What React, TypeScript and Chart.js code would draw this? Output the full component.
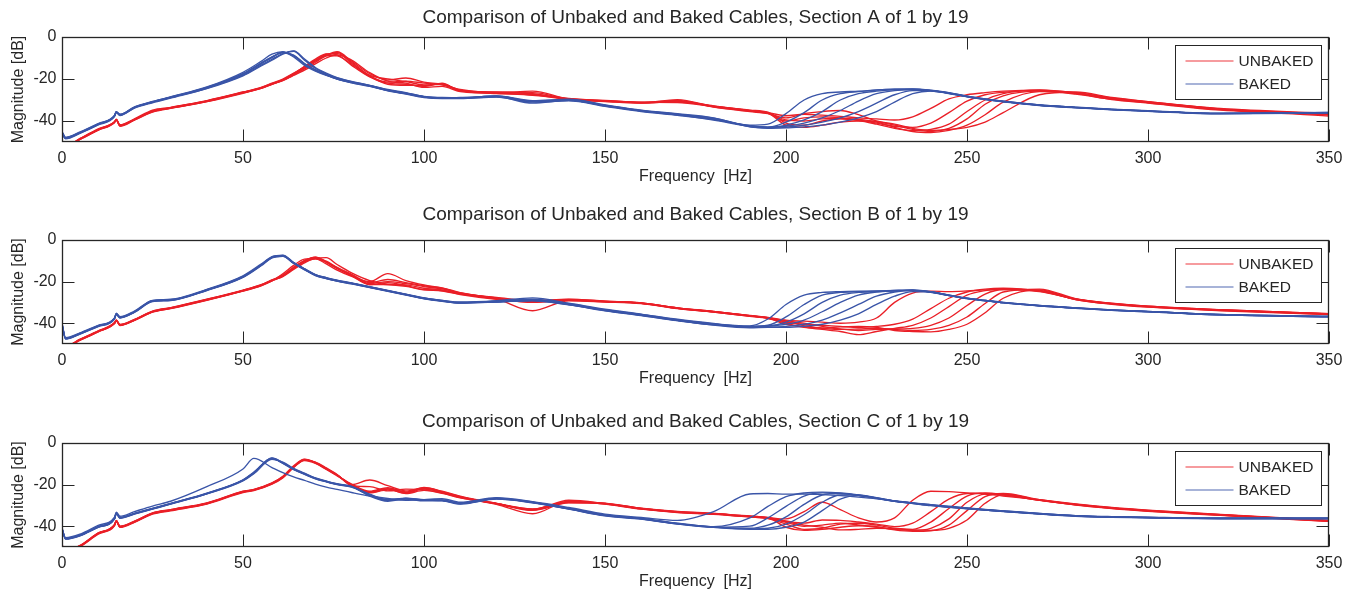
import React, { useEffect, useRef } from "react";
import { Chart, registerables } from "chart.js";

Chart.register(...registerables);

// ---------------- data ----------------
const FREQ_AB = [
  0, 1, 5, 10, 14.5, 15, 16, 20, 25, 30,
  40, 50, 55, 58, 61, 64, 67, 70, 73, 76,
  80, 85, 90, 95, 100, 105, 110, 120, 130, 140,
  150, 160, 170, 180, 190, 195, 200, 205, 210, 215,
  220, 225, 230, 235, 240, 245, 250, 255, 260, 270,
  280, 290, 300, 320, 350,
];
const FREQ_C = [
  0, 1, 5, 10, 14.5, 15, 16, 20, 25, 30,
  40, 50, 53, 58, 61, 64, 67, 70, 73, 76,
  80, 85, 90, 95, 100, 105, 110, 120, 130, 140,
  150, 160, 170, 180, 190, 195, 200, 205, 210, 215,
  220, 225, 230, 235, 240, 245, 250, 255, 260, 270,
  280, 290, 300, 320, 350,
];

const A_UNBAKED = [
  [-51, -52, -48.6, -44.2, -40.6, -39.4, -42.2, -39.4, -35.2, -33.8,
   -30.6, -26.5, -24.3, -22.4, -20.5, -18, -15.2, -12, -8.8, -7,
   -11.5, -17.5, -20.5, -19.5, -21.5, -22.5, -25, -26.5, -25.8, -29.5,
   -30.2, -31, -30.8, -32.8, -35, -36, -37.5, -36.8, -37.2, -37.8,
   -38.5, -39, -39.5, -38, -34, -29.5, -27.5, -26.5, -25.8, -25.3,
   -26.6, -29.3, -31, -34.3, -36.5],
  [-51.5, -52, -48.3, -43.8, -40.3, -39.1, -41.8, -39, -34.8, -33.5,
   -30.3, -26.2, -24, -22, -20, -17.2, -14.3, -11.2, -8.2, -7.8,
   -12.5, -18.5, -21.5, -21, -22, -22.8, -25.5, -27, -27.5, -29.8,
   -30.6, -31.4, -29.8, -33.2, -35.3, -36.3, -40, -38.5, -38, -38.5,
   -39.5, -41, -42.5, -43, -41, -36, -30.5, -27.5, -26.3, -25.5,
   -27, -29.6, -31.3, -34.6, -36.8],
  [-50.5, -51.5, -48.8, -44.4, -40.8, -39.6, -42.5, -39.6, -35.8, -34,
   -30.8, -26.8, -24.5, -22.5, -20.8, -17.8, -14, -10.5, -8, -8.5,
   -13.5, -19, -22, -22.5, -23.5, -22, -25.8, -26.3, -27.2, -29.3,
   -30.4, -31.2, -31, -33, -34.8, -35.8, -41, -42, -40, -39,
   -39.8, -41.5, -43.5, -44.5, -44, -41.5, -35.5, -30, -27, -25.2,
   -26.5, -29, -30.8, -34, -36.3],
  [-51, -52.5, -48.5, -44, -40.5, -39.4, -42, -39.2, -35.4, -33.7,
   -30.5, -26.4, -24.2, -22.3, -20.6, -18.3, -15.8, -12.8, -10, -8.5,
   -11, -17, -21, -22, -24, -23.5, -26, -26.8, -26.5, -29.6,
   -30.5, -31.3, -30.2, -33.4, -35.5, -36.5, -38.5, -36.5, -35.5, -35,
   -37, -40, -42, -44, -45, -43.5, -39, -32, -28, -25.8,
   -27.2, -29.8, -31.5, -34.8, -37],
  [-51.2, -52, -48.4, -44.1, -40.4, -39.2, -42.3, -39.3, -35.6, -33.6,
   -30.4, -26.3, -24.1, -22.2, -20.3, -17.6, -14.8, -11.5, -9, -7.3,
   -12, -18.2, -20, -21.2, -22.8, -22.6, -25.3, -26.6, -27.8, -29.4,
   -30.3, -31.1, -31.2, -33.1, -35.2, -36.2, -42, -43, -42, -40.5,
   -40, -40.5, -43, -45, -45.5, -44.5, -42, -37, -31, -26,
   -26.6, -29.2, -31, -34.4, -37.6],
  [-51, -51.8, -48.7, -44.3, -40.7, -39.5, -42.1, -39.5, -35.3, -33.9,
   -30.7, -26.6, -24.4, -22.6, -20.4, -17.4, -14.1, -11, -8.8, -9,
   -13, -18.8, -22.5, -23, -23, -22.2, -25.6, -26.2, -27, -29.7,
   -30.7, -31.5, -30.6, -32.9, -35.1, -36.1, -39.5, -40, -39, -38.8,
   -39.2, -40.3, -41.5, -43.5, -44.5, -44, -43, -40.5, -36, -27.5,
   -26.2, -28.8, -30.8, -34.2, -36.9],
];

const A_BAKED = [
  [-45, -47.8, -45.2, -41.2, -37.3, -35.5, -36.8, -33.3, -30.7, -28.5,
   -23.8, -16.8, -11.6, -8.2, -7, -9.5, -13.5, -16.2, -18.3, -20,
   -21.8, -23.5, -25.5, -27, -28.6, -29.2, -29.2, -28.5, -31.5, -30.2,
   -32.8, -35.3, -37, -39, -42, -41.5, -36.5, -30, -27, -26.2,
   -25.8, -25.2, -24.8, -24.7, -25.3, -26.5, -28.2, -29.5, -30.6, -32.3,
   -33.5, -34.5, -35.2, -36.4, -36],
  [-45.5, -48.2, -45.6, -41.6, -37.6, -35.8, -37.1, -33.6, -31, -28.8,
   -24.2, -17.8, -12.8, -9.8, -7.3, -8.6, -12.6, -15.6, -17.9, -19.8,
   -21.5, -23.2, -25.3, -26.8, -28.5, -29, -28.8, -28.2, -30.5, -29.8,
   -32.5, -35, -36.8, -38.6, -42.5, -43, -40.5, -36, -30, -27,
   -26, -25.3, -24.9, -24.8, -25.5, -26.8, -28.4, -29.7, -30.8, -32.5,
   -33.6, -34.6, -35.3, -36.5, -36.1],
  [-46, -48.5, -45.9, -41.9, -37.9, -36, -37.4, -33.9, -31.3, -29.1,
   -24.6, -18.5, -13.8, -11, -8.2, -6.6, -10.5, -14.5, -17.2, -19.3,
   -21.2, -23, -25, -26.5, -28.3, -28.8, -29, -28, -30.3, -29.6,
   -32.3, -34.8, -36.5, -38.5, -42.8, -43.3, -42, -39.5, -35.5, -30,
   -27, -25.8, -25.2, -25, -25.6, -26.9, -28.5, -29.8, -30.9, -32.6,
   -33.7, -34.7, -35.4, -36.6, -36.2],
  [-45.3, -47.9, -45.4, -41.4, -37.4, -35.6, -36.9, -33.5, -30.8, -28.6,
   -24, -17.4, -12.4, -9.5, -7.5, -9, -13, -15.9, -18.1, -20,
   -21.7, -23.4, -25.6, -27.2, -28.8, -29.3, -29.3, -28.6, -31, -30.4,
   -33, -35.5, -37.3, -39.3, -42.2, -42.8, -42.5, -41, -38.5, -35,
   -30.5, -27, -25.5, -25, -25.4, -26.7, -28.3, -29.6, -30.7, -32.4,
   -33.5, -34.5, -35.2, -36.4, -35.9],
  [-45.8, -48.3, -45.7, -41.7, -37.7, -35.9, -37.2, -33.7, -31.1, -28.9,
   -24.4, -18.2, -13.4, -10.6, -7.9, -6.8, -11, -14.9, -17.5, -19.5,
   -21.3, -23.1, -25.2, -26.7, -28.4, -29, -29.1, -28.1, -30.8, -30.1,
   -32.7, -35.2, -37, -39.6, -42.6, -43.5, -43, -42, -40.5, -38.5,
   -35.5, -31.5, -27.5, -25.5, -25.5, -26.8, -28.4, -29.7, -30.8, -32.5,
   -33.6, -34.6, -35.3, -36.5, -36.1],
  [-45.2, -48, -45.5, -41.5, -37.5, -35.7, -37, -33.5, -30.9, -28.7,
   -24.1, -17.6, -12.5, -9.6, -7.2, -8.8, -12.8, -15.7, -18, -19.9,
   -21.6, -23.3, -25.4, -26.9, -28.6, -29.1, -29.1, -28.4, -30.6, -30,
   -32.6, -35.1, -36.9, -39.2, -42.4, -43.2, -43.3, -42.8, -42, -40.5,
   -38.5, -35.5, -31, -27, -25.7, -26.6, -28.2, -29.5, -30.6, -32.3,
   -33.4, -34.4, -35.1, -36.3, -35.9],
];

const B_UNBAKED = [
  [-49.5, -51, -47.8, -43.8, -39.8, -38.5, -40.7, -38.3, -34.3, -32.6,
   -28.6, -24.2, -21.5, -19.2, -16.8, -13, -9.8, -8.2, -10.2, -13.2,
   -16.5, -20.5, -19, -20.5, -22, -23.2, -25.4, -27.8, -29.4, -28.6,
   -29.4, -30.2, -32.6, -34.3, -36.3, -37.2, -38.5, -39, -39.5, -40,
   -39.5, -37.5, -30, -25.5, -24.6, -24.8, -24.5, -24, -23.8, -24.8,
   -28.3, -30.5, -31.8, -33.5, -35.4],
  [-49.7, -51.2, -48, -44, -40, -38.7, -40.9, -38.5, -34.5, -32.8,
   -28.8, -24.4, -21.8, -19.5, -17.2, -13.4, -10.2, -8.5, -10.5, -13.5,
   -16.8, -21, -20, -21, -22.4, -23.5, -25.6, -28, -29.6, -28.8,
   -29.6, -30.4, -32.8, -34.5, -36.5, -37.5, -39.5, -40.5, -41, -41.5,
   -42, -41.5, -40.5, -38, -33, -28, -25, -23.6, -23.2, -24.6,
   -28.5, -30.7, -32, -33.7, -35.6],
  [-50, -51.5, -48.2, -44.2, -40.2, -38.9, -41.1, -38.7, -34.7, -33,
   -29, -24.6, -22, -19.7, -16.2, -12.2, -9.2, -9, -11.5, -14.5,
   -17.5, -20, -16.2, -19.5, -21.6, -23, -25.3, -28.3, -34, -29.2,
   -29.8, -30.6, -33, -34.7, -36.7, -37.8, -40, -42, -43, -44,
   -45.5, -44, -42.5, -41, -37.5, -32, -26.5, -24.3, -23.5, -24.4,
   -28.4, -30.6, -31.9, -33.6, -35.5],
  [-49.6, -51, -47.9, -43.9, -39.9, -38.6, -40.8, -38.4, -34.4, -32.7,
   -28.7, -24.3, -21.7, -19.4, -17.6, -14.2, -11, -8.8, -8.5, -11.8,
   -15.8, -19.5, -21.2, -21.6, -23.2, -24, -25.8, -27.6, -29.2, -28.4,
   -29.4, -30.2, -32.6, -34.3, -36.4, -37.4, -38.8, -40, -41.5, -42.8,
   -43.5, -43, -42.8, -42.5, -41, -37.5, -31.5, -26, -23.8, -24.2,
   -28.6, -30.8, -32.1, -33.8, -35.7],
  [-49.8, -51.3, -48.1, -44.1, -40.1, -38.8, -41, -38.6, -34.6, -32.9,
   -28.9, -24.5, -21.9, -19.6, -17.4, -13.6, -10, -8.3, -10.8, -13.8,
   -17.2, -21.5, -20.5, -22, -23.8, -24.3, -26, -28.2, -30, -29,
   -29.7, -30.5, -32.9, -34.6, -36.6, -37.6, -40.5, -41.8, -42.5, -43,
   -42.8, -42.5, -43, -43.5, -43, -41, -37, -30.5, -25, -23.6,
   -28.2, -30.4, -31.8, -33.5, -35.4],
  [-49.4, -51, -47.7, -43.7, -39.7, -38.4, -40.6, -38.2, -34.2, -32.5,
   -28.5, -24.1, -21.6, -19.3, -17.3, -13.8, -10.5, -9, -10.6, -13.4,
   -17, -21.3, -21.5, -22.3, -24, -24.5, -26.2, -28.5, -29.8, -28.9,
   -29.5, -30.3, -32.7, -34.4, -36.4, -37.3, -39.2, -41.2, -42.3, -41.8,
   -41.5, -42, -43.5, -44, -44.2, -43, -40.5, -35, -28, -24,
   -28.7, -30.9, -32.3, -34, -35.9],
];

const B_BAKED = [
  [-40, -47, -44.6, -41, -37.4, -35.2, -36.9, -34.2, -29, -28.5,
   -23.7, -17.2, -11.6, -8, -7.3, -10.8, -13.8, -16.6, -18.1, -19.3,
   -20.6, -22.4, -24.2, -26, -27.8, -29, -29.8, -29.4, -28.5, -30.6,
   -33.5, -35.8, -38.3, -40.3, -41.3, -38, -31, -26.5, -25.2, -24.8,
   -24.6, -24.5, -24.2, -24, -24.8, -26.5, -28, -29, -30, -31.5,
   -32.6, -33.6, -34.3, -35.8, -36.7],
  [-40.5, -47.3, -44.9, -41.3, -37.7, -35.5, -37.2, -34.5, -29.3, -28.8,
   -24, -17.6, -12, -8.2, -7.5, -11, -14, -16.8, -18.3, -19.5,
   -20.8, -22.6, -24.4, -26.2, -28, -29.2, -30, -29.6, -28.8, -30.8,
   -33.7, -36, -38.5, -40.5, -41.5, -41, -37, -31, -26.5, -25.2,
   -24.8, -24.6, -24.3, -24.1, -25, -26.6, -28.1, -29.1, -30.1, -31.6,
   -32.7, -33.7, -34.4, -35.9, -36.8],
  [-41, -47.6, -45.2, -41.6, -38, -35.8, -37.5, -34.8, -29.6, -29.1,
   -24.3, -18, -12.4, -8.6, -7.8, -11.3, -14.3, -17.1, -18.6, -19.8,
   -21.1, -22.9, -24.7, -26.5, -28.3, -29.5, -30.3, -29.2, -27.8, -30.4,
   -33.2, -35.6, -38.1, -40.1, -41.8, -41.5, -39.5, -35.5, -30, -26.5,
   -25.2, -24.8, -24.4, -24.2, -25.1, -26.7, -28.2, -29.2, -30.2, -31.7,
   -32.8, -33.8, -34.5, -36, -36.9],
  [-40.2, -47.2, -44.8, -41.2, -37.6, -35.4, -37.1, -34.4, -29.2, -28.7,
   -23.9, -17.5, -11.9, -8.3, -7.6, -11.1, -14.1, -16.9, -18.4, -19.6,
   -20.9, -22.7, -24.5, -26.3, -28.1, -29.3, -30.2, -29.8, -29.2, -31.2,
   -34, -36.3, -38.8, -40.8, -41.7, -41.3, -40.5, -38.5, -34.5, -30,
   -26.5, -25, -24.5, -24.2, -25, -26.6, -28.1, -29.1, -30.1, -31.6,
   -32.7, -33.7, -34.4, -35.9, -36.8],
  [-40.8, -47.5, -45, -41.4, -37.8, -35.6, -37.3, -34.6, -29.4, -28.9,
   -24.1, -17.7, -12.1, -8.4, -7.4, -10.9, -13.9, -16.7, -18.2, -19.4,
   -20.7, -22.5, -24.3, -26.1, -27.9, -29.1, -30.1, -29.7, -29, -31,
   -33.9, -36.2, -38.7, -40.7, -42, -41.8, -41.5, -40.5, -38.5, -35,
   -31, -27, -25, -24.3, -24.9, -26.5, -28, -29, -30, -31.5,
   -32.6, -33.6, -34.3, -35.8, -36.7],
  [-40.3, -47.4, -45.1, -41.5, -37.9, -35.7, -37.4, -34.7, -29.5, -29,
   -24.2, -17.8, -12.2, -8.5, -7.7, -11.2, -14.2, -17, -18.5, -19.7,
   -21, -22.8, -24.6, -26.4, -28.2, -29.4, -30.3, -29.9, -29.1, -31.1,
   -33.8, -36.1, -38.6, -40.9, -42.2, -42, -42, -41.5, -40.5, -38.5,
   -35.5, -31, -27, -24.8, -25.1, -26.7, -28.2, -29.2, -30.2, -31.7,
   -32.8, -33.8, -34.5, -36, -36.9],
];

const C_UNBAKED = [
  [-49, -51.5, -49.2, -43.2, -39.2, -37.2, -40, -37.6, -33.6, -32,
   -28.8, -23.2, -22.3, -19.2, -16, -11, -7.8, -9.3, -12.2, -15.3,
   -20, -17.8, -20.5, -23, -21.5, -23.2, -25.6, -29, -31.8, -28.3,
   -28.9, -31.3, -32.9, -33.8, -35.1, -35.8, -36.5, -33, -28.5, -32,
   -36, -38, -36, -27.5, -23.2, -23.4, -24, -24.5, -25.5, -27.3,
   -29.3, -31, -32.3, -34.3, -37.2],
  [-49.5, -52, -49.5, -43.5, -39.5, -37.5, -40.3, -37.9, -33.9, -32.3,
   -29.1, -23.5, -22.6, -19.5, -16.5, -11.4, -8, -9.5, -12.4, -15.5,
   -20.2, -23.5, -21.9, -23.5, -21.8, -23.5, -25.9, -29.2, -32, -27.5,
   -29.1, -31.5, -33.1, -34, -35.3, -36, -37.5, -38.5, -37, -37.2,
   -38, -39, -40.2, -38.5, -33, -27, -24.3, -24.2, -25, -27.5,
   -29.5, -31.2, -32.5, -34.5, -37.4],
  [-50, -52.5, -49.8, -43.8, -39.8, -37.8, -40.6, -38.2, -34.2, -32.6,
   -29.4, -23.8, -22.9, -19.8, -16.8, -11.8, -8.2, -9.2, -12, -15.2,
   -20.5, -21, -23, -22.2, -22.5, -24, -26.2, -29.5, -34, -28,
   -29.4, -31.8, -33.4, -34.3, -35.6, -36.3, -39, -41.5, -41, -39,
   -38.6, -39.5, -41, -41.5, -38, -31.5, -25.5, -24, -24.8, -27.6,
   -29.7, -31.4, -32.7, -34.7, -37.6],
  [-49.3, -51.8, -49.3, -43.3, -39.3, -37.3, -40.1, -37.7, -33.7, -32.1,
   -28.9, -23.3, -22.4, -19.3, -16.3, -11.6, -8.4, -9.8, -12.7, -15.8,
   -20, -24, -22.5, -24, -22.2, -23.8, -26, -29, -32.2, -28.6,
   -29.2, -31.6, -33.2, -34.1, -35.4, -36.1, -38.2, -40, -39.5, -38.5,
   -39.4, -40.5, -41.5, -42, -41, -36.5, -28.5, -24.6, -24.5, -27.4,
   -29.6, -31.3, -32.6, -34.6, -37.5],
  [-49.6, -52.2, -49.6, -43.6, -39.6, -37.6, -40.4, -38, -34, -32.4,
   -29.2, -23.6, -22.7, -19.6, -16.6, -11.2, -7.9, -9.6, -12.5, -15.6,
   -19.8, -23.2, -21.5, -23.8, -21.4, -23.4, -25.8, -29.3, -31.7, -28.2,
   -29, -31.4, -33, -33.9, -35.2, -35.9, -40.5, -42, -41.5, -40.5,
   -39.8, -40.2, -41.8, -42.5, -42.2, -39.5, -32.5, -25.8, -24.3, -27.2,
   -29.4, -31.1, -32.4, -34.4, -37.3],
  [-49.4, -51.9, -49.4, -43.4, -39.4, -37.4, -40.2, -37.8, -33.8, -32.2,
   -29, -23.4, -22.5, -19.4, -16.4, -11.5, -8.1, -9.4, -12.3, -15.4,
   -20.3, -23.7, -22.2, -24.3, -22.8, -24.2, -26.4, -29.1, -32.4, -28.8,
   -29.3, -31.7, -33.3, -34.2, -35.5, -36.2, -37.8, -39.5, -40.5, -41.8,
   -41.5, -41, -41.2, -41.8, -42, -41, -37, -29, -24.8, -27.5,
   -29.8, -31.5, -32.8, -34.8, -37.7],
];

const C_BAKED = [
  [-41, -45.5, -43.8, -39.6, -35.6, -33.2, -35.2, -33, -30.3, -28,
   -21, -12.5, -7.4, -11.8, -14.3, -16.3, -18, -19.8, -21.2, -22.3,
   -23.8, -25.5, -26.7, -27.5, -27.2, -26.8, -28.5, -26.3, -28.2, -31,
   -34.2, -35.8, -37.2, -33, -24.5, -24.3, -24.6, -24.5, -24.8, -25.3,
   -26, -26.8, -27.8, -28.8, -29.6, -30.4, -31.2, -31.9, -32.6, -33.9,
   -34.9, -35.5, -35.8, -36.2, -36.2],
  [-41.1, -45.9, -44.3, -40.3, -36.3, -33.7, -35.9, -33.9, -31.5, -29.1,
   -24.2, -17.8, -14.2, -7.4, -9.8, -12.8, -15, -17, -18.5, -19.8,
   -21, -25, -27.5, -26.7, -27.5, -27.5, -29.1, -26.7, -28.5, -31.5,
   -34.7, -36.3, -38.7, -40.2, -36, -30.5, -25.8, -24, -23.6, -24,
   -25, -26.5, -28, -29, -30, -30.8, -31.5, -32.2, -32.9, -34.1,
   -35.1, -35.6, -35.9, -36.3, -36.3],
  [-41.5, -46.2, -44.6, -40.6, -36.6, -34, -36.2, -34.2, -31.8, -29.4,
   -24.5, -18.2, -14.8, -7.8, -9.2, -12.2, -14.5, -16.8, -18.3, -19.6,
   -20.8, -25.5, -28, -27, -27.8, -27.8, -29.4, -27, -28.8, -31.8,
   -35, -36.6, -39, -40.5, -40, -36, -30.5, -25.5, -24, -24.2,
   -25.2, -26.6, -28.1, -29.1, -30.1, -30.9, -31.6, -32.3, -33, -34.2,
   -35.2, -35.7, -36, -36.4, -36.4],
  [-41.2, -46, -44.4, -40.4, -36.4, -33.8, -36, -34, -31.6, -29.2,
   -24.3, -17.9, -14.5, -7.6, -9.6, -12.6, -14.9, -17.1, -18.6, -19.9,
   -21.1, -24.6, -27.3, -26.5, -27.3, -27.6, -29, -26.5, -28.4, -31.4,
   -34.6, -36.2, -38.6, -40.4, -41, -39.5, -35.5, -29.5, -25, -24.3,
   -25.1, -26.4, -27.9, -28.9, -29.9, -30.7, -31.4, -32.1, -32.8, -34,
   -35, -35.5, -35.8, -36.2, -36.2],
  [-41, -45.8, -44.2, -40.2, -36.2, -33.6, -35.8, -33.8, -31.4, -29,
   -24.1, -17.7, -14, -7.3, -9.7, -12.7, -15.1, -17.2, -18.7, -20,
   -21.2, -25.2, -27.6, -26.8, -27.6, -27.4, -29.2, -26.8, -28.6, -31.6,
   -34.8, -36.4, -38.8, -40.4, -41.3, -41, -39, -34.5, -28.5, -25,
   -25, -26.3, -27.8, -28.8, -29.8, -30.6, -31.3, -32, -32.7, -33.9,
   -34.9, -35.4, -35.7, -36.1, -36.1],
  [-41.3, -46.1, -44.5, -40.5, -36.5, -33.9, -36.1, -34.1, -31.7, -29.3,
   -24.4, -18, -14.4, -7.2, -9.4, -12.4, -14.7, -16.9, -18.4, -19.7,
   -20.9, -24.8, -27.4, -26.6, -27.4, -27.7, -28.9, -26.6, -28.7, -31.7,
   -34.9, -36.5, -38.9, -40.6, -41.5, -41.5, -40.5, -38, -32.5, -27,
   -25.3, -26.5, -28, -29, -30, -30.8, -31.5, -32.2, -32.9, -34.1,
   -35.1, -35.6, -35.9, -36.3, -36.3],
];

const TITLES = [
  "Comparison of Unbaked and Baked Cables, Section A of 1 by 19",
  "Comparison of Unbaked and Baked Cables, Section B of 1 by 19",
  "Comparison of Unbaked and Baked Cables, Section C of 1 by 19",
];
const LEGEND_LABELS = ["UNBAKED", "BAKED"];
const X_LABEL = "Frequency  [Hz]";
const Y_LABEL = "Magnitude [dB]";
const X_TICKS = [0, 50, 100, 150, 200, 250, 300, 350];
const Y_TICKS = [-40, -20, 0];

// ---------------- styles ----------------
const RED = "#ea1f27";
const BLUE = "#3a55a8";
const INK = "#262626";
const FONT = "'Liberation Sans', Arial, Helvetica, sans-serif";
const W = 1357;

const PANELS = [
  { title: TITLES[0], freq: FREQ_AB, unbaked: A_UNBAKED, baked: A_BAKED, top: 0, height: 203, bottomGap: 61, titleAbove: 19.5 },
  { title: TITLES[1], freq: FREQ_AB, unbaked: B_UNBAKED, baked: B_BAKED, top: 203, height: 202, bottomGap: 61, titleAbove: 25 },
  { title: TITLES[2], freq: FREQ_C, unbaked: C_UNBAKED, baked: C_BAKED, top: 406, height: 202, bottomGap: 61, titleAbove: 21.5 },
];

const framePlugin = {
  id: "matlabFrame",
  afterDatasetsDraw(chart: any) {
    const { ctx, chartArea: a, scales } = chart;
    const x = scales.x, y = scales.y;
    const L = Math.round(a.left) + 0.5;
    const R = Math.round(a.right) - 0.5;
    const T = Math.round(a.top) + 0.5;
    const B = Math.round(a.bottom) - 0.5;
    const TL = 12;
    ctx.save();
    ctx.strokeStyle = INK;
    ctx.lineWidth = 1;
    ctx.beginPath();
    for (const v of X_TICKS) {
      const px = Math.round(x.getPixelForValue(v)) + 0.5;
      ctx.moveTo(px, B); ctx.lineTo(px, B - TL);
      ctx.moveTo(px, T); ctx.lineTo(px, T + TL);
    }
    for (const v of Y_TICKS) {
      const py = Math.round(y.getPixelForValue(v)) + 0.5;
      ctx.moveTo(L, py); ctx.lineTo(L + TL, py);
      ctx.moveTo(R, py); ctx.lineTo(R - TL, py);
    }
    ctx.stroke();
    ctx.lineWidth = 1.3;
    ctx.strokeRect(L, T, R - L, B - T);
    ctx.restore();
  },
  afterDraw(chart: any) {
    const { ctx, chartArea: a } = chart;
    const opts = chart.options.plugins.matlabFrame || {};
    // title
    ctx.save();
    ctx.fillStyle = INK;
    ctx.font = `19px ${FONT}`;
    ctx.textAlign = "center";
    ctx.textBaseline = "middle";
    ctx.fillText(opts.title || "", (a.left + a.right) / 2, a.top - (opts.titleAbove || 20));
    // legend
    const bx = Math.round(a.right) - 154 + 0.5;
    const by = Math.round(a.top) + 8 + 0.5;
    const bw = 146, bh = 54;
    ctx.fillStyle = "#ffffff";
    ctx.fillRect(bx, by, bw, bh);
    ctx.strokeStyle = INK;
    ctx.lineWidth = 1;
    ctx.strokeRect(bx, by, bw, bh);
    const rows = [
      { label: LEGEND_LABELS[0], color: RED, yy: by + 15.5 },
      { label: LEGEND_LABELS[1], color: BLUE, yy: by + 38 },
    ];
    ctx.font = `15.5px ${FONT}`;
    ctx.textAlign = "left";
    ctx.textBaseline = "middle";
    for (const r of rows) {
      ctx.beginPath();
      ctx.strokeStyle = r.color;
      ctx.globalAlpha = 0.6;
      ctx.lineWidth = 1.6;
      const ly = Math.round(r.yy);
      ctx.moveTo(bx + 10, ly);
      ctx.lineTo(bx + 58, ly);
      ctx.stroke();
      ctx.globalAlpha = 1;
      ctx.fillStyle = INK;
      ctx.fillText(r.label, bx + 63, r.yy + 1);
    }
    ctx.restore();
  },
};

function Panel(props: any) {
  const ref = useRef<HTMLCanvasElement | null>(null);
  useEffect(() => {
    const { freq, unbaked, baked, title, titleAbove, bottomGap } = props;
    const mk = (arr: number[], color: string) => ({
      data: arr.map((v, k) => ({ x: freq[k], y: v })),
      borderColor: color,
      backgroundColor: color,
      borderWidth: 1.35,
      pointRadius: 0,
      fill: false,
      cubicInterpolationMode: "monotone",
    });
    // earlier datasets are painted on top in Chart.js
    const datasets = [
      ...baked.map((d: number[]) => mk(d, BLUE)),
      ...unbaked.map((d: number[]) => mk(d, RED)),
    ];
    const chart = new Chart(ref.current as HTMLCanvasElement, {
      type: "line",
      data: { datasets } as any,
      plugins: [framePlugin as any],
      options: {
        animation: false,
        responsive: false,
        devicePixelRatio: 1,
        events: [],
        layout: { padding: { top: 37, right: 28, left: 0, bottom: 0 } },
        plugins: {
          legend: { display: false },
          tooltip: { enabled: false },
          title: { display: false },
          matlabFrame: { title, titleAbove },
        } as any,
        scales: {
          x: {
            type: "linear",
            min: 0,
            max: 350,
            afterBuildTicks: (s: any) => { s.ticks = X_TICKS.map((v) => ({ value: v })); },
            afterFit: (s: any) => { s.height = bottomGap; },
            ticks: { color: INK, font: { size: 16, family: FONT }, padding: 6.5, maxRotation: 0, autoSkip: false },
            grid: { display: false, drawTicks: false },
            border: { display: false },
            title: { display: true, text: X_LABEL, color: INK, font: { size: 16, family: FONT }, padding: { top: 0, bottom: 16.4 } },
          },
          y: {
            type: "linear",
            min: -50,
            max: 0,
            afterBuildTicks: (s: any) => { s.ticks = Y_TICKS.map((v) => ({ value: v })); },
            afterFit: (s: any) => { s.width = 62; },
            ticks: { color: INK, font: { size: 16, family: FONT }, padding: 5.5 },
            grid: { display: false, drawTicks: false },
            border: { display: false },
            title: { display: true, text: Y_LABEL, color: INK, font: { size: 16, family: FONT }, padding: { top: 8.7, bottom: 0 } },
          },
        },
      } as any,
    });
    return () => chart.destroy();
  }, []);
  return (
    <canvas
      ref={ref}
      width={W}
      height={props.height}
      style={{ position: "absolute", left: 0, top: props.top, width: W, height: props.height, display: "block" }}
    />
  );
}

export default function App() {
  return (
    <div style={{ position: "fixed", left: 0, top: 0, width: W, height: 590, background: "#ffffff", overflow: "hidden" }}>
      {PANELS.map((p, i) => (
        <Panel key={i} {...p} />
      ))}
    </div>
  );
}
